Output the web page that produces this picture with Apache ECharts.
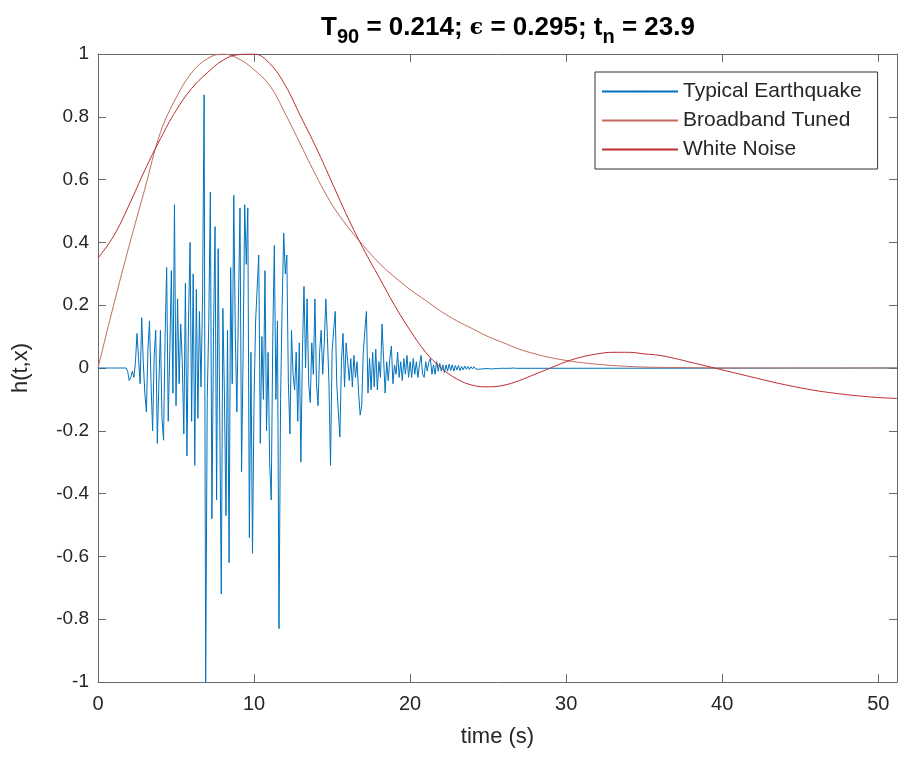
<!DOCTYPE html>
<html>
<head>
<meta charset="utf-8">
<script src="https://cdn.jsdelivr.net/npm/echarts@6/dist/echarts.min.js"></script>
<style>
  html, body { margin: 0; padding: 0; background: #fff; }
  #chart { width: 901px; height: 767px; }
</style>
</head>
<body>
<div id="chart"></div>
<script>
// earthquake record, one value every 0.1 s from t = 0
const eqStep = 0.1
const eqValues = [
  0, 0, 0, 0, 0, 0, 0, 0, 0, 0,
  0, 0, 0, 0, 0, 0, 0, 0, 0, -0.01,
  -0.04, -0.03, -0.01, -0.03, 0.02, 0.11, 0.03, -0.05, 0.16, 0.02,
  -0.08, -0.14, 0.06, 0.15, -0.05, -0.2, 0.04, 0.12, -0.24, -0.05,
  0.12, -0.16, -0.23, 0.1, 0.32, -0.17, 0.05, 0.31, -0.08, 0.52,
  -0.12, 0.22, -0.05, 0.14, 0.02, -0.21, 0.27, -0.28, 0.15, 0.4,
  -0.17, 0.3, -0.31, 0.25, -0.16, 0.18, -0.06, 0.22, 0.87, -1.0,
  -0.1, 0.15, 0.56, -0.48, 0.1, 0.45, -0.42, 0.38, -0.15, -0.72,
  0.19, -0.08, -0.47, 0.12, -0.62, 0.32, -0.05, 0.55, 0.1, -0.14,
  0.2, 0.51, -0.33, 0.05, 0.52, 0.33, 0.51, -0.54, 0.05, -0.59,
  -0.1, 0.15, 0.15, 0.36, -0.24, 0.1, -0.1, 0.31, -0.2, 0.05,
  -0.3, -0.42, 0.1, 0.39, -0.1, 0.15, -0.83, -0.1, 0.2, 0.43,
  0.3, 0.36, -0.05, -0.21, 0.12, -0.02, -0.07, 0.05, -0.17, 0.08,
  -0.3, 0.05, 0.26, 0, 0.22, -0.05, -0.11, 0.08, -0.02, 0.22,
  -0.05, -0.12, 0.05, 0.12, -0.02, 0.08, 0.22, 0.1, -0.05, -0.31,
  0.05, 0.12, 0.18, -0.05, -0.14, -0.22, 0.02, 0.11, -0.06, 0.08,
  0.02, -0.04, 0.03, -0.06, 0.04, -0.03, 0.02, -0.08, -0.15, -0.12,
  0.05, 0.12, 0.18, -0.08, 0.03, -0.07, 0.05, -0.06, 0.06, -0.07,
  0.02, -0.03, 0.14, 0.03, -0.08, 0.02, -0.04, 0.03, 0.07, -0.05,
  0.01, -0.02, 0.05, -0.03, 0.02, -0.04, 0.03, -0.02, 0.04, -0.03,
  0.02, -0.03, 0.03, -0.02, 0.02, -0.03, 0.01, 0.04, -0.02, -0.03,
  0.02, -0.01, 0.02, 0.03, -0.02, 0.01, -0.02, 0.02, -0.01, 0.015,
  -0.01, 0.01, -0.015, 0.01, -0.01, 0.012, -0.008, 0.01, -0.01, 0.008,
  -0.006, 0.008, -0.008, 0.005, -0.006, 0.006, -0.004, 0.005, -0.005, 0.004,
  -0.003, 0.004, -0.003, 0.003, -0.004, 0.002, -0.003, 0.003, -0.002, 0.003,
  -0.002, 0.002, -0.003, 0.002, -0.002, 0.001, -0.002, 0.002, -0.001, 0.001,
  -0.001, 0.001, -0.001, 0.001, -0.001, 0.001, 0, 0.001, -0.001, 0
]
const eqEndTime = 51.2
const eqEndValue = 0

// smooth curves, sampled once a second
const curveTime = [
  0, 1, 2, 3, 4, 5, 6, 7, 8, 9, 10, 11, 12, 13, 14, 15, 16, 17, 18, 19, 20,
  21, 22, 23, 24, 25, 26, 27, 28, 29, 30, 31, 32, 33, 34, 35, 36, 37, 38, 39, 40,
  41, 42, 43, 44, 45, 46, 47, 48, 49, 50, 51.2
]
const broadbandValues = [
  0, 0.2, 0.39, 0.57, 0.75, 0.86, 0.94, 0.985, 1.0, 0.985, 0.95,
  0.9, 0.81, 0.71, 0.61, 0.52, 0.45, 0.39, 0.335, 0.29, 0.25,
  0.215, 0.18, 0.15, 0.125, 0.1, 0.08, 0.06, 0.045, 0.033, 0.024,
  0.017, 0.012, 0.008, 0.005, 0.003, 0.002, 0.0015, 0.001, 0.0005, 0,
  0, 0, 0, 0, 0, 0, 0, 0, 0, 0, 0
]
const whiteNoiseValues = [
  0.35, 0.42, 0.52, 0.63, 0.73, 0.82, 0.89, 0.94, 0.98, 0.998, 1.0,
  0.97, 0.9, 0.8, 0.7, 0.59, 0.48, 0.38, 0.29, 0.2, 0.12,
  0.05, 0.0, -0.035, -0.055, -0.06, -0.055, -0.04, -0.02, 0.0, 0.02,
  0.035, 0.045, 0.05, 0.05, 0.045, 0.04, 0.03, 0.018, 0.006, -0.006,
  -0.018, -0.03, -0.042, -0.053, -0.063, -0.072, -0.079, -0.085, -0.09, -0.094, -0.097
]

const xTicks = { min: 0, max: 51.2, interval: 10 }
const yTicks = { min: -1, max: 1, interval: 0.2 }

const eqData = eqValues.map((v, i) => [+(i * eqStep).toFixed(1), v])
eqData.push([eqEndTime, eqEndValue])
const pair = (ts, vs) => ts.map((t, i) => [t, vs[i]])

const axisColor = '#6a6a6a'
const textColor = '#262626'
const font = 'Liberation Sans, Arial, sans-serif'

const chart = echarts.init(document.getElementById('chart'))

const baseX = {
  type: 'value', min: xTicks.min, max: xTicks.max, interval: xTicks.interval,
  axisLine: { onZero: false, lineStyle: { color: axisColor, width: 1 } },
  axisTick: { inside: true, length: 8, lineStyle: { color: axisColor } },
  splitLine: { show: false }
}
const baseY = {
  type: 'value', min: yTicks.min, max: yTicks.max, interval: yTicks.interval,
  axisLine: { onZero: false, lineStyle: { color: axisColor, width: 1 } },
  axisTick: { inside: true, length: 8, lineStyle: { color: axisColor } },
  splitLine: { show: false }
}

chart.setOption({
  animation: false,
  backgroundColor: '#fff',
  title: {
    left: 503, textAlign: 'center', top: 4,
    text: '{a|T}{s|90}{a| = 0.214; }{e|ϵ}{a| = 0.295; t}{s|n}{a| = 23.9}',
    textStyle: {
      rich: {
        a: { fontSize: 26, fontWeight: 'bold', color: '#000', fontFamily: font },
        s: { fontSize: 20, fontWeight: 'bold', color: '#000', fontFamily: font, padding: [18, 0, 0, 0] },
        e: { fontSize: 22, color: '#000', fontFamily: 'DejaVu Serif, serif' }
      }
    }
  },
  grid: { left: 98, right: 4, top: 54, bottom: 85 },
  legend: {
    left: 595, top: 72, orient: 'vertical',
    backgroundColor: '#fff', borderColor: '#333', borderWidth: 1,
    padding: [9, 16, 9, 6], itemGap: 8, itemWidth: 76, itemHeight: 2,
    textStyle: { fontSize: 21, color: textColor, fontFamily: font },
    data: ['Typical Earthquake', 'Broadband Tuned', 'White Noise']
  },
  xAxis: [
    Object.assign({}, baseX, {
      position: 'bottom',
      name: 'time (s)', nameLocation: 'middle', nameGap: 44,
      nameTextStyle: { fontSize: 22, color: textColor, fontFamily: font },
      axisLabel: { margin: 12, fontSize: 20, color: textColor, fontFamily: font, showMaxLabel: false }
    }),
    Object.assign({}, baseX, { position: 'top', axisLabel: { show: false } })
  ],
  yAxis: [
    Object.assign({}, baseY, {
      position: 'left',
      name: 'h(t,x)', nameLocation: 'middle', nameGap: 66, nameRotate: 90,
      nameTextStyle: { fontSize: 22, color: textColor, fontFamily: font },
      axisLabel: { margin: 9, fontSize: 19, color: textColor, fontFamily: font,
        formatter: v => String(+v.toFixed(1)) }
    }),
    Object.assign({}, baseY, { position: 'right', axisLabel: { show: false } })
  ],
  series: [
    {
      name: 'Typical Earthquake', type: 'line', data: eqData,
      symbol: 'none', lineStyle: { width: 1, color: '#0072BD' }, itemStyle: { color: '#0072BD' }
    },
    {
      name: 'Broadband Tuned', type: 'line', data: pair(curveTime, broadbandValues), smooth: 0.4,
      symbol: 'none', lineStyle: { width: 1, color: '#C26A5C' }, itemStyle: { color: '#C26A5C' }
    },
    {
      name: 'White Noise', type: 'line', data: pair(curveTime, whiteNoiseValues), smooth: 0.4,
      symbol: 'none', lineStyle: { width: 1, color: '#BE2B2E' }, itemStyle: { color: '#BE2B2E' }
    }
  ]
})
</script>
</body>
</html>
